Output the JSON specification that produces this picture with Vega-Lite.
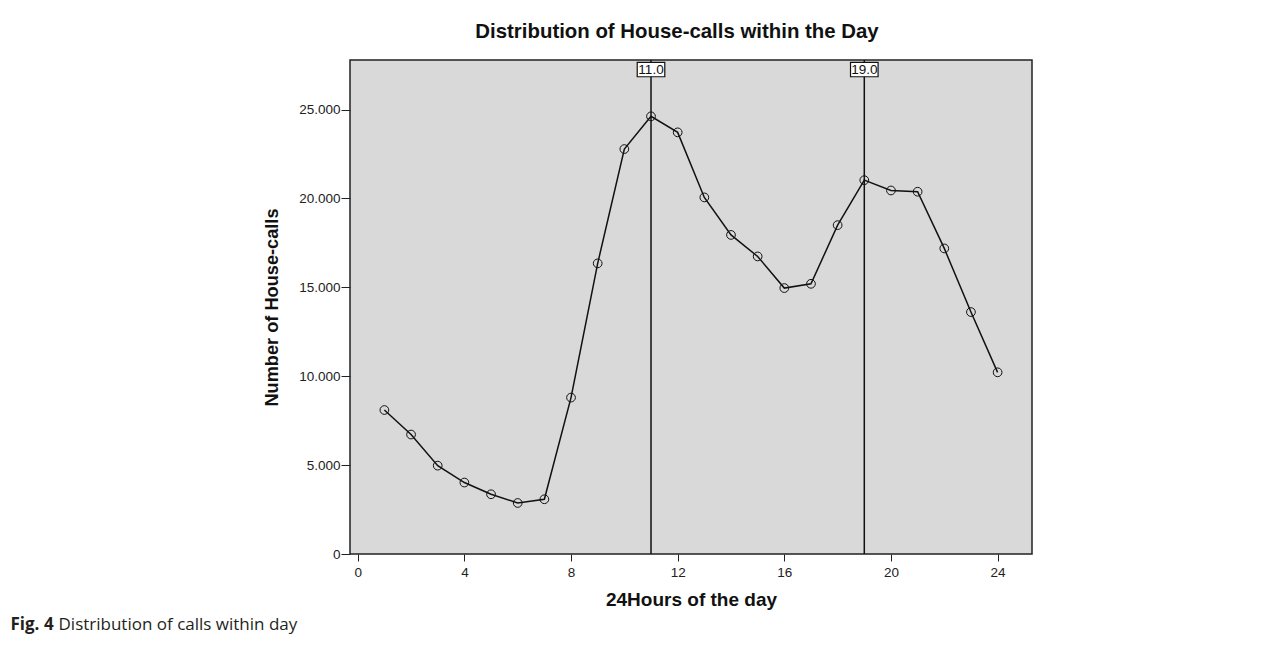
{
  "$schema": "https://vega.github.io/schema/vega-lite/v6.json",
  "width": 682,
  "height": 494,
  "autosize": {"type": "none"},
  "padding": {"left": 350, "top": 60, "right": 252, "bottom": 99},
  "background": "white",
  "config": {
    "font": "Liberation Sans",
    "view": {"fill": "#d9d9d9", "stroke": "#222222", "strokeWidth": 1.5},
    "axis": {"grid": false, "domain": false, "labelColor": "#222222", "titleColor": "#111111", "tickColor": "#222222"}
  },
  "title": {
    "text": "Distribution of House-calls within the Day",
    "font": "Liberation Sans",
    "fontSize": 20.4,
    "fontWeight": "bold",
    "color": "#111111",
    "anchor": "middle",
    "frame": "group",
    "offset": 17,
    "dx": -14
  },
  "datasets": {
    "calls": [
      {"hour": 1, "calls": 8100},
      {"hour": 2, "calls": 6720},
      {"hour": 3, "calls": 4970},
      {"hour": 4, "calls": 4020},
      {"hour": 5, "calls": 3360},
      {"hour": 6, "calls": 2870},
      {"hour": 7, "calls": 3080},
      {"hour": 8, "calls": 8800},
      {"hour": 9, "calls": 16350},
      {"hour": 10, "calls": 22780},
      {"hour": 11, "calls": 24620},
      {"hour": 12, "calls": 23720},
      {"hour": 13, "calls": 20060},
      {"hour": 14, "calls": 17950},
      {"hour": 15, "calls": 16740},
      {"hour": 16, "calls": 14960},
      {"hour": 17, "calls": 15200},
      {"hour": 18, "calls": 18500},
      {"hour": 19, "calls": 21030},
      {"hour": 20, "calls": 20450},
      {"hour": 21, "calls": 20380},
      {"hour": 22, "calls": 17190},
      {"hour": 23, "calls": 13610},
      {"hour": 24, "calls": 10220}
    ],
    "refs": [
      {"hour": 11, "label": "11.0"},
      {"hour": 19, "label": "19.0"}
    ]
  },
  "data": {"name": "calls"},
  "layer": [
    {
      "encoding": {
        "x": {
          "field": "hour",
          "type": "quantitative",
          "scale": {"domain": [-0.29, 25.29], "nice": false, "zero": false},
          "axis": {
            "title": "24Hours of the day",
            "values": [0, 4, 8, 12, 16, 20, 24],
            "tickSize": 7,
            "labelPadding": 4,
            "labelFontSize": 13.5,
            "titleFontSize": 19,
            "titleFontWeight": "bold",
            "titlePadding": 12
          }
        }
      },
      "layer": [
        {
          "data": {"name": "refs"},
          "mark": {"type": "rule", "color": "#111111", "strokeWidth": 1.5},
          "encoding": {}
        },
        {
          "mark": {"type": "line", "color": "#111111", "strokeWidth": 1.5},
          "encoding": {
            "y": {
              "field": "calls",
              "type": "quantitative",
              "scale": {"domain": [0, 27790], "nice": false},
              "axis": {
                "title": "Number of House-calls",
                "values": [0, 5000, 10000, 15000, 20000, 25000],
                "labelExpr": "replace(format(datum.value, ','), ',', '.')",
                "tickSize": 9,
                "labelPadding": 1,
                "labelFontSize": 13.5,
                "titleFontSize": 18.2,
                "titleFontWeight": "bold",
                "titlePadding": 17
              }
            }
          }
        },
        {
          "mark": {"type": "point", "shape": "circle", "filled": false, "color": "#111111", "strokeWidth": 1, "size": 76, "opacity": 1},
          "encoding": {
            "y": {"field": "calls", "type": "quantitative", "title": "Number of House-calls"}
          }
        },
        {
          "data": {"name": "refs"},
          "mark": {"type": "point", "shape": "M-1,-0.52L1,-0.52L1,0.52L-1,0.52Z", "size": 760, "filled": true, "fill": "white", "stroke": "#111111", "strokeWidth": 1.2, "opacity": 1},
          "encoding": {"y": {"datum": 27250, "type": "quantitative", "title": "Number of House-calls"}}
        },
        {
          "data": {"name": "refs"},
          "mark": {"type": "text", "fontSize": 13.5, "color": "#111111", "baseline": "middle", "align": "center", "dy": 0.5},
          "encoding": {
            "y": {"datum": 27250, "type": "quantitative", "title": "Number of House-calls"},
            "text": {"field": "label"}
          }
        }
      ]
    },
    {
      "mark": {"type": "point", "opacity": 0},
      "encoding": {
        "x": {
          "field": "hour",
          "type": "quantitative",
          "axis": {
            "orient": "bottom",
            "title": "Fig. 4",
            "labels": false,
            "ticks": false,
            "domain": false,
            "titleX": -340,
            "titleY": 75,
            "titleAlign": "left",
            "titleAnchor": "start",
            "titleBaseline": "alphabetic",
            "titleFont": "Open Sans",
            "titleFontSize": 17,
            "titleFontWeight": "bold",
            "titleColor": "#231f20"
          }
        },
        "y": {
          "field": "calls",
          "type": "quantitative",
          "axis": {
            "orient": "right",
            "title": "Distribution of calls within day",
            "titleAngle": 0,
            "labels": false,
            "ticks": false,
            "domain": false,
            "titleX": -974,
            "titleY": 569,
            "titleAlign": "left",
            "titleAnchor": "start",
            "titleBaseline": "alphabetic",
            "titleFont": "Open Sans",
            "titleFontSize": 17,
            "titleFontWeight": "normal",
            "titleColor": "#231f20"
          }
        }
      }
    }
  ],
  "resolve": {"scale": {"x": "independent", "y": "independent"}}
}
